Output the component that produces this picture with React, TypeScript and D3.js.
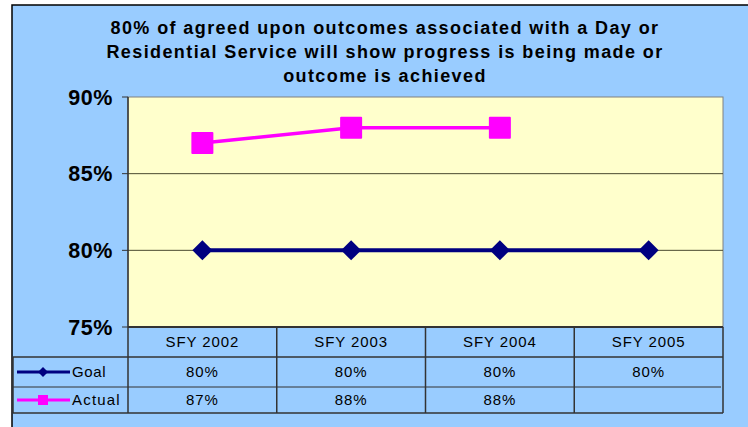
import React from 'react';
import * as d3 from 'd3';

const categories = ['SFY 2002', 'SFY 2003', 'SFY 2004', 'SFY 2005'];
const goalValues = [80, 80, 80, 80];
const actualValues: (number | null)[] = [87, 88, 88, null];
const yTicks = [75, 80, 85, 90];
const titleLines = [
  '80% of agreed upon outcomes associated with a Day or',
  'Residential Service will show progress is being made or',
  'outcome is achieved',
];

const W = 748;
const H = 427;
const plot = { left: 128, right: 723, top: 97, bottom: 327 };
const rowH = [30, 30, 26]; // category row, goal row, actual row
const legendLeft = 13;
const font = 'Liberation Sans, Arial, sans-serif';

export default function App() {
  const x = d3.scaleBand<string>().domain(categories).range([plot.left, plot.right]);
  const y = d3.scaleLinear().domain([75, 90]).range([plot.bottom, plot.top]);
  const cx = (c: string) => (x(c) as number) + x.bandwidth() / 2;

  const line = d3
    .line<[string, number | null]>()
    .defined((d) => d[1] != null)
    .x((d) => cx(d[0]))
    .y((d) => y(d[1] as number));

  const goalPts = categories.map((c, i) => [c, goalValues[i]] as [string, number | null]);
  const actualPts = categories.map((c, i) => [c, actualValues[i]] as [string, number | null]);

  const r0 = plot.bottom;
  const r1 = r0 + rowH[0];
  const r2 = r1 + rowH[1];
  const r3 = r2 + rowH[2];
  const edges = [plot.left, ...categories.map((c) => (x(c) as number) + x.bandwidth())];

  const fmt = (v: number | null) => (v == null ? '' : v + '%');

  return (
    <svg width={W} height={H} style={{ position: 'fixed', left: 0, top: 0, background: '#fff' }}>
      {/* chart frame */}
      <rect x={12} y={5} width={W} height={H} fill="#99CCFF" stroke="#000" strokeWidth={1.5} />

      {/* title */}
      <g fontFamily={font} fontWeight="bold" fontSize={18} letterSpacing={1.4} textAnchor="middle" fill="#000">
        {titleLines.map((t, i) => (
          <text key={i} x={385} y={34 + i * 24}>
            {t}
          </text>
        ))}
      </g>

      {/* plot area */}
      <rect x={plot.left} y={plot.top} width={plot.right - plot.left} height={plot.bottom - plot.top} fill="#FFFFCC" stroke="#808080" strokeWidth={1} />
      {yTicks.filter((t) => t !== 75 && t !== 90).map((t) => (
        <line key={t} x1={plot.left} x2={plot.right} y1={y(t)} y2={y(t)} stroke="#4a4a30" strokeWidth={1} />
      ))}

      {/* y axis */}
      <line x1={plot.left} x2={plot.left} y1={plot.top} y2={plot.bottom} stroke="#333" strokeWidth={1.5} />
      {yTicks.map((t) => (
        <g key={t}>
          <line x1={plot.left - 6} x2={plot.left} y1={y(t)} y2={y(t)} stroke="#333" strokeWidth={1} />
          <text x={113} y={y(t) + 7.5} textAnchor="end" fontFamily={font} fontWeight="bold" fontSize={21.5} letterSpacing={0.6}>
            {t}%
          </text>
        </g>
      ))}

      {/* series */}
      <path d={line(goalPts) || ''} fill="none" stroke="#000080" strokeWidth={4} />
      {goalPts.map(([c, v]) => (
        <path key={c} d={`M${cx(c)},${y(v as number) - 10}l10,10l-10,10l-10,-10z`} fill="#000080" />
      ))}
      <path d={line(actualPts) || ''} fill="none" stroke="#FF00FF" strokeWidth={3.5} />
      {actualPts.filter((d) => d[1] != null).map(([c, v]) => (
        <rect key={c} x={cx(c) - 11} y={y(v as number) - 11} width={22} height={22} fill="#FF00FF" rx={1} />
      ))}

      {/* data table */}
      <g stroke="#333" strokeWidth={1.5}>
        <line x1={plot.left} x2={plot.right} y1={r0} y2={r0} strokeWidth={2} />
        <line x1={legendLeft} x2={plot.right} y1={r1} y2={r1} />
        <line x1={legendLeft} x2={plot.right - 2} y1={r2} y2={r2} strokeWidth={1} />
        <line x1={legendLeft} x2={plot.right} y1={r3} y2={r3} />
        <line x1={legendLeft} x2={legendLeft} y1={r1} y2={r3} />
        {edges.map((e, i) => (
          <line key={i} x1={e} x2={e} y1={r0} y2={r3} />
        ))}
      </g>
      <g fontFamily={font} fontSize={15} letterSpacing={0.9} textAnchor="middle" fill="#000">
        {categories.map((c, i) => (
          <g key={c}>
            <text x={cx(c)} y={r0 + 20}>{c}</text>
            <text x={cx(c)} y={r1 + 20}>{fmt(goalValues[i])}</text>
            <text x={cx(c)} y={r2 + 18}>{fmt(actualValues[i])}</text>
          </g>
        ))}
      </g>

      {/* legend keys */}
      <line x1={17} x2={70} y1={r1 + 15} y2={r1 + 15} stroke="#000080" strokeWidth={3} />
      <path d={`M43,${r1 + 10}l5,5l-5,5l-5,-5z`} fill="#000080" />
      <text x={72} y={r1 + 20} fontFamily={font} fontSize={15} letterSpacing={0.6}>Goal</text>
      <line x1={17} x2={70} y1={r2 + 13} y2={r2 + 13} stroke="#FF00FF" strokeWidth={3} />
      <rect x={38} y={r2 + 8} width={10} height={10} fill="#FF00FF" />
      <text x={72} y={r2 + 18} fontFamily={font} fontSize={15} letterSpacing={1.2}>Actual</text>
    </svg>
  );
}
